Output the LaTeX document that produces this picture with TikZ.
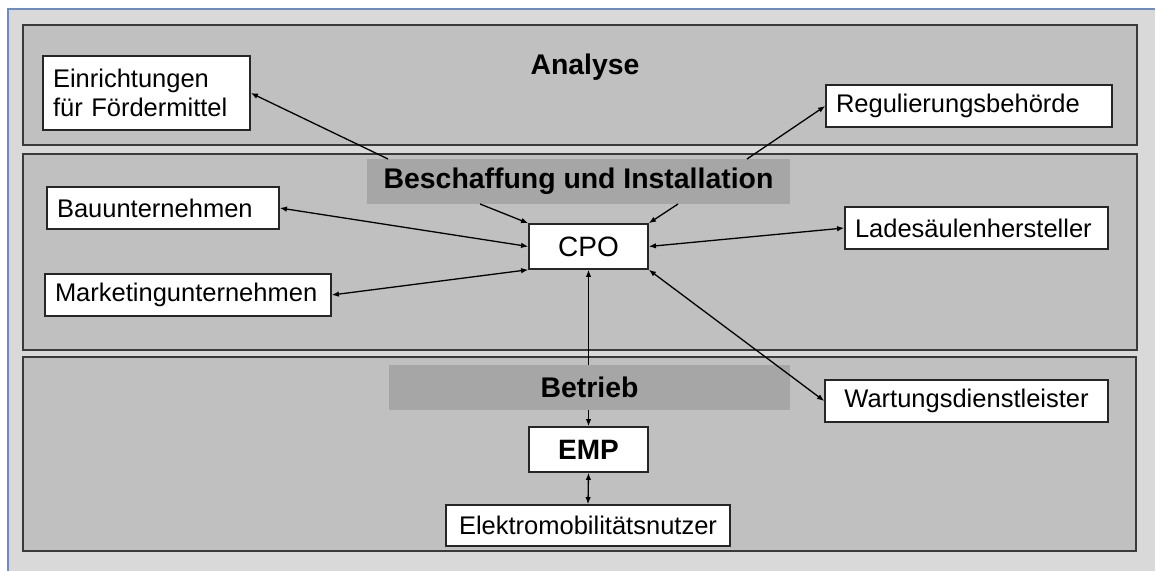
\documentclass[tikz,border=0pt]{standalone}
\usepackage{fontspec}
\setmainfont{Liberation Sans}
\usetikzlibrary{arrows.meta}
\definecolor{panel}{HTML}{D9D9D9}
\definecolor{band}{HTML}{C0C0C0}
\definecolor{banner}{HTML}{A6A6A6}
\definecolor{edge}{HTML}{3A3A3A}
\definecolor{blueline}{HTML}{6C8CC8}
\begin{document}
\begin{tikzpicture}[x=0.5pt,y=-0.5pt,
  bandbox/.style={draw=edge,fill=band,line width=1pt},
  wbox/.style={draw=black!85,fill=white,line width=0.75pt,inner ysep=0pt,
    minimum height=21pt,font=\fontsize{12.75}{14.5}\selectfont},
  lbox/.style={wbox,align=left,inner xsep=5pt},
  bannerbox/.style={fill=banner,minimum height=22.5pt,inner sep=0pt,
    font=\bfseries\fontsize{14.2}{16}\selectfont},
  arr/.style={line width=0.65pt,-{Latex[length=3.6pt,width=2.8pt]}},
  darr/.style={line width=0.65pt,{Latex[length=3.6pt,width=2.8pt]}-{Latex[length=3.6pt,width=2.8pt]}}]
\useasboundingbox (0,0) rectangle (1155,571);
\fill[white] (0,0) rectangle (1155,571);
\fill[panel] (8,9) rectangle (1155,571);
\draw[blueline,line width=0.8pt] (8,571) -- (8,9) -- (1155,9);
% bands
\draw[bandbox] (23,25) rectangle (1137,145);
\draw[bandbox] (23,154) rectangle (1137,350);
\draw[bandbox] (23,357) rectangle (1136,551);
% titles
\node[font=\bfseries\fontsize{14.2}{16}\selectfont] (ana) at (585,67) {Analyse};
\node[bannerbox,minimum width=211.5pt] (b1) at (578.5,181.5) {Beschaffung und Installation};
\node[bannerbox,minimum width=200.5pt] (b2) at (589.5,387.5) {Betrieb};
% boxes
\node[lbox,text width=93.5pt,minimum height=37pt] (ein) at (146.5,93) {Einrichtungen\\f\"ur F\"ordermittel};
\node[lbox,text width=133pt] (reg) at (969,106) {Regulierungsbeh\"orde};
\node[lbox,text width=106pt] (bau) at (163,208) {Bauunternehmen};
\node[lbox,text width=133pt] (mkt) at (188,295) {Marketingunternehmen};
\node[lbox,text width=121.5pt] (lade) at (976.5,228) {Lades\"aulenhersteller};
\node[wbox,minimum width=141.5pt] (wart) at (966.5,401) {Wartungsdienstleister};
\node[wbox,minimum width=59.5pt,minimum height=22.5pt,font=\fontsize{14}{16}\selectfont] (cpo) at (588.5,246.5) {CPO};
\node[wbox,minimum width=59.5pt,minimum height=22.5pt,font=\bfseries\fontsize{14}{16}\selectfont] (emp) at (588.5,449.5) {EMP};
\node[wbox,minimum width=142pt,minimum height=20.5pt] (elek) at (588,525.5) {Elektromobilit\"atsnutzer};
% free ends on banner edges
\coordinate (s1) at (388,159);
\coordinate (s2) at (747,159);
\coordinate (s3) at (480,204);
\coordinate (s4) at (678,204);
% connectors
\draw[arr] (s1) -- (ein.east);
\draw[arr] (s2) -- (reg.west);
\draw[arr] (s3) -- (cpo.north west);
\draw[arr] (s4) -- (cpo.north east);
\draw[darr] (bau.east) -- (cpo.west);
\draw[darr] (mkt.east) -- (cpo.south west);
\draw[darr] (cpo.east) -- (lade.west);
\draw[darr] (cpo.south east) -- (wart.west);
\draw[arr] (cpo.south |- b2.north) -- (cpo.south);
\draw[arr] (emp.north |- b2.south) -- (emp.north);
\draw[darr] (emp.south) -- (elek.north);
\end{tikzpicture}
\end{document}
